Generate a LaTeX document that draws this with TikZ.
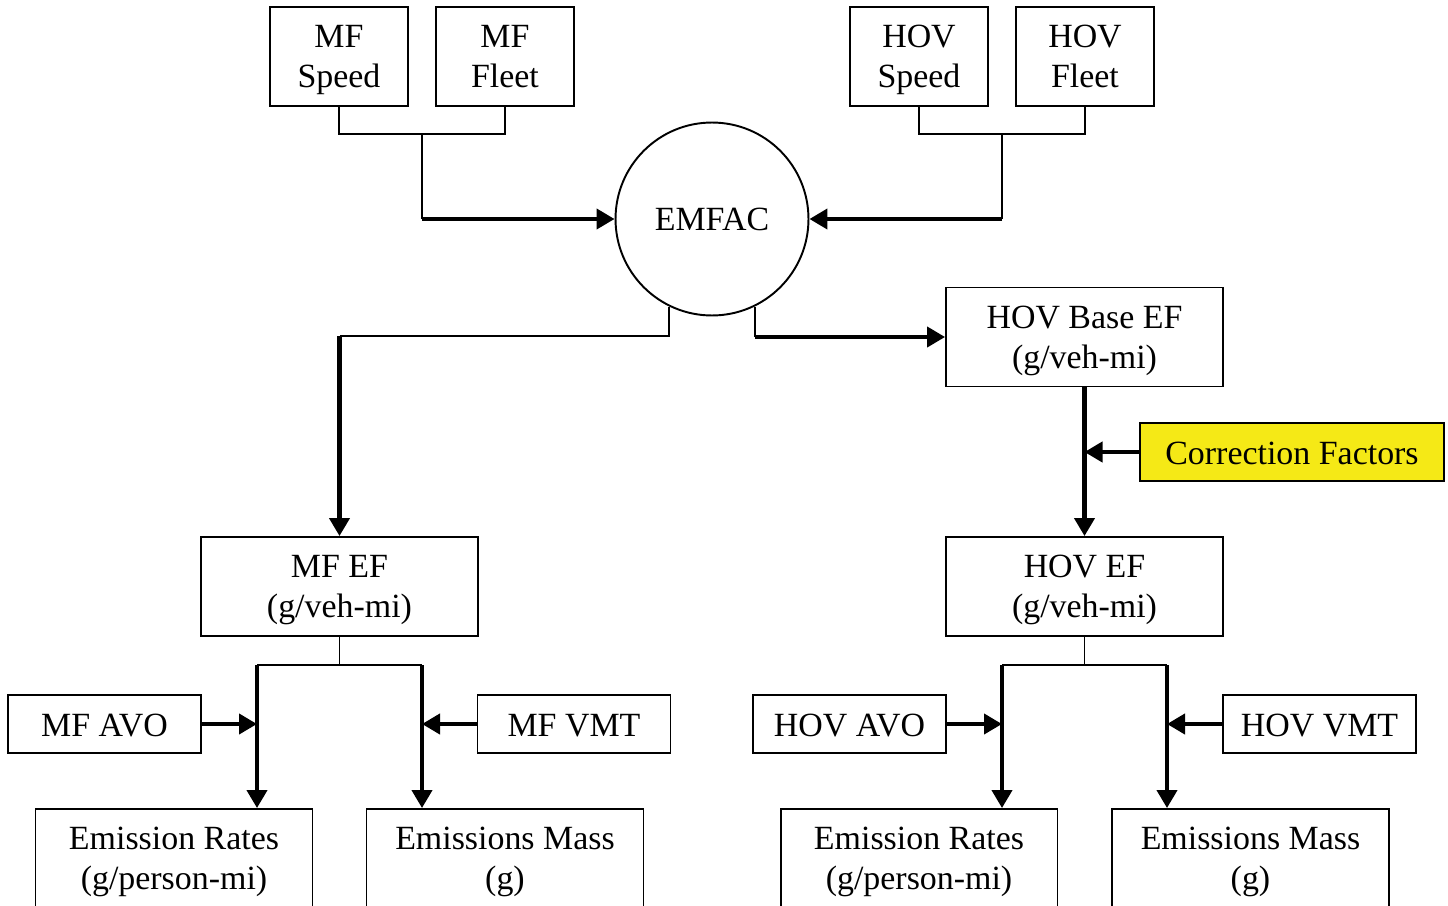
\documentclass[tikz,border=0pt]{standalone}
\usepackage{fontspec}
\setmainfont{Liberation Serif}
\usepackage{tikz}
\usetikzlibrary{arrows.meta,positioning,calc}
\definecolor{cfyellow}{RGB}{245,233,22}

\begin{document}
\begin{tikzpicture}[
  x=0.02cm, y=-0.02cm,
  font=\fontsize{19.3}{22.8}\selectfont,
  box/.style={draw, line width=1.1pt, align=center, inner sep=0pt, text depth=0pt},
  topbox/.style={box, minimum width=2.76cm, minimum height=1.98cm},
  efbox/.style={box, minimum width=5.54cm, minimum height=1.98cm},
  sidebox/.style={box, text height=14pt, minimum width=3.86cm, minimum height=1.16cm},
  link/.style={line width=1.1pt},
  flow/.style={line width=2.3pt, -{Triangle[length=0.36cm,width=0.4cm]}},
]
\useasboundingbox (0,0) rectangle (1448,906);

% inputs to EMFAC
\node[topbox] (mfspeed) at (339,56.5) {MF\\Speed};
\node[topbox] (mffleet) at (505,56.5) {MF\\Fleet};
\node[topbox] (hovspeed) at (919,56.5) {HOV\\Speed};
\node[topbox] (hovfleet) at (1085,56.5) {HOV\\Fleet};
\node[draw, circle, line width=1.1pt, minimum size=3.86cm] (emfac) at (712,219) {EMFAC};

\coordinate (mfjoin) at (422,134);
\coordinate (hovjoin) at (1002,134);
\draw[link] (mfspeed.south) |- (mfjoin) -| (mffleet.south);
\draw[link] (hovspeed.south) |- (hovjoin) -| (hovfleet.south);
\draw[link] (mfjoin) -- (mfjoin |- emfac.west);
\draw[link] (hovjoin) -- (hovjoin |- emfac.east);
\draw[flow] (mfjoin |- emfac.west) -- (emfac.west);
\draw[flow] (hovjoin |- emfac.east) -- (emfac.east);

% emission factors
\node[efbox] (hovbase) at (1084.5,337) {HOV Base EF\\(g/veh-mi)};
\node[efbox] (mfef) at (339.5,586.5) {MF EF\\(g/veh-mi)};
\node[efbox] (hovef) at (1084.5,586.5) {HOV EF\\(g/veh-mi)};
\node[sidebox, fill=cfyellow, minimum width=6.08cm] (corr) at (1292,452) {Correction Factors};

\coordinate (split) at (0,336);
\draw[link] (emfac.244) |- (split -| mfef.north);
\draw[flow] (split -| mfef.north) -- (mfef.north);
\draw[link] (emfac.296) -- (emfac.296 |- hovbase.west);
\draw[flow] (emfac.296 |- hovbase.west) -- (hovbase.west);
\draw[flow] (hovbase) -- (hovef);
\draw[flow] (corr.west) -- (corr.west -| hovbase.south);

% MF outputs
\node[sidebox] (mfavo) at (104.5,724) {MF AVO};
\node[sidebox] (mfvmt) at (574,724) {MF VMT};
\node[efbox] (mfrate) at (174,858.5) {Emission Rates\\(g/person-mi)};
\node[efbox] (mfmass) at (505,858.5) {Emissions Mass\\(g)};

\coordinate (mfl) at (257,665);
\coordinate (mfr) at (422,665);
\draw[link] (mfef.south) -- (mfef.south |- mfl);
\draw[link] (mfl) -- (mfr);
\draw[flow] (mfl) -- (mfl |- mfrate.north);
\draw[flow] (mfr) -- (mfr |- mfmass.north);
\draw[flow] (mfavo.east) -- (mfavo.east -| mfl);
\draw[flow] (mfvmt.west) -- (mfvmt.west -| mfr);

% HOV outputs
\node[sidebox] (hovavo) at (849.5,724) {HOV AVO};
\node[sidebox] (hovvmt) at (1319.5,724) {HOV VMT};
\node[efbox] (hovrate) at (919,858.5) {Emission Rates\\(g/person-mi)};
\node[efbox] (hovmass) at (1250.5,858.5) {Emissions Mass\\(g)};

\coordinate (hovl) at (1002,665);
\coordinate (hovr) at (1167,665);
\draw[link] (hovef.south) -- (hovef.south |- hovl);
\draw[link] (hovl) -- (hovr);
\draw[flow] (hovl) -- (hovl |- hovrate.north);
\draw[flow] (hovr) -- (hovr |- hovmass.north);
\draw[flow] (hovavo.east) -- (hovavo.east -| hovl);
\draw[flow] (hovvmt.west) -- (hovvmt.west -| hovr);
\end{tikzpicture}
\end{document}
